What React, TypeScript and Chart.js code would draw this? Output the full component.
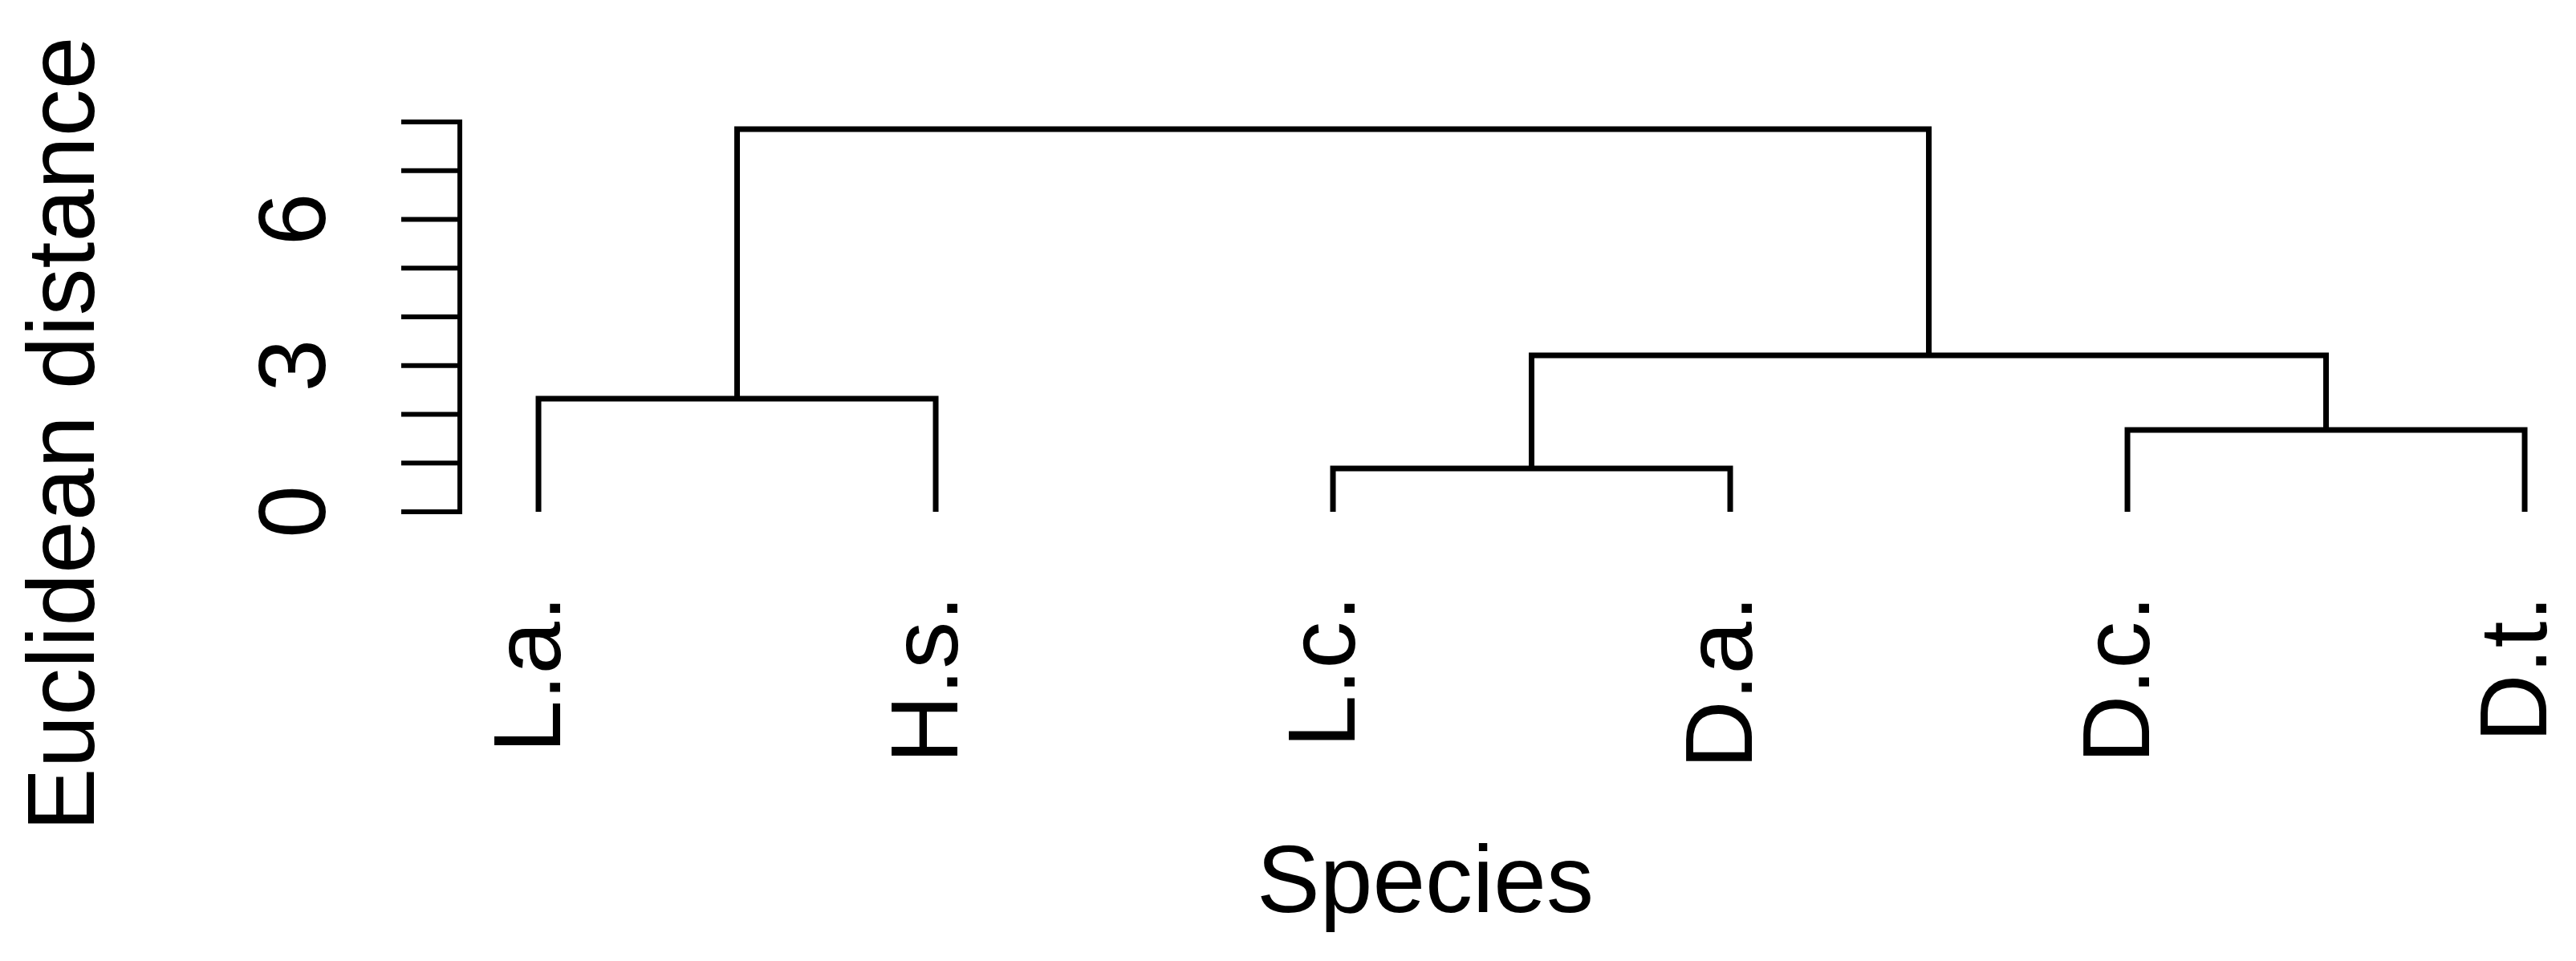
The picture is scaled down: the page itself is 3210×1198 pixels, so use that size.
import React, { useEffect, useRef } from 'react';
import { Chart, registerables } from 'chart.js';

Chart.register(...registerables);

// Leaf order of the dendrogram
const species = ['L.a.', 'H.s.', 'L.c.', 'D.a.', 'D.c.', 'D.t.'];
// hclust-style merge table: negative = leaf (1-based), positive = earlier merge (1-based)
const mergeA = [-3, -5, -1, 1, 3];
const mergeB = [-4, -6, -2, 2, 4];
const mergeHeights = [0.89, 1.68, 2.32, 3.21, 7.85];
// Y axis ticks
const yTicks = [0, 1, 2, 3, 4, 5, 6, 7, 8];
const yTickLabels = ['0', '', '', '3', '', '', '6', '', ''];
const xTitle = 'Species';
const yTitle = 'Euclidean distance';

const FONT = "118px 'Liberation Sans', Arial, sans-serif";

function buildDatasets() {
  const nodeX: number[] = [];
  const nodeH: number[] = [];
  const pos = (id: number) =>
    id < 0 ? { x: -id, h: 0 } : { x: nodeX[id - 1], h: nodeH[id - 1] };
  const sets: any[] = [];
  mergeHeights.forEach((h, i) => {
    const a = pos(mergeA[i]);
    const b = pos(mergeB[i]);
    nodeX.push((a.x + b.x) / 2);
    nodeH.push(h);
    sets.push({
      data: [
        { x: a.x, y: a.h },
        { x: a.x, y: h },
        { x: b.x, y: h },
        { x: b.x, y: b.h },
      ],
      showLine: true,
      borderColor: '#000',
      backgroundColor: '#000',
      borderWidth: 7,
      pointRadius: 0,
      pointHoverRadius: 0,
      fill: false,
      tension: 0,
      borderCapStyle: 'butt',
      borderJoinStyle: 'miter',
      clip: false,
    });
  });
  return sets;
}

const axisPlugin = {
  id: 'rAxes',
  afterDraw(chart: any) {
    const ctx = chart.ctx;
    const xs = chart.scales.x;
    const ys = chart.scales.y;
    const axisX = chart.chartArea.left;
    ctx.save();
    ctx.strokeStyle = '#000';
    ctx.fillStyle = '#000';
    ctx.lineWidth = 6;
    ctx.lineCap = 'butt';
    // axis line
    ctx.beginPath();
    ctx.moveTo(axisX, ys.getPixelForValue(yTicks[0]) + 3);
    ctx.lineTo(axisX, ys.getPixelForValue(yTicks[yTicks.length - 1]) - 3);
    ctx.stroke();
    // ticks
    yTicks.forEach((t) => {
      const py = ys.getPixelForValue(t);
      ctx.beginPath();
      ctx.moveTo(axisX + 3, py);
      ctx.lineTo(axisX - 73, py);
      ctx.stroke();
    });
    ctx.font = FONT;
    // tick labels (rotated)
    yTicks.forEach((t, i) => {
      const lbl = yTickLabels[i];
      if (!lbl) return;
      const py = ys.getPixelForValue(t);
      ctx.save();
      ctx.translate(axisX - 168, py);
      ctx.rotate(-Math.PI / 2);
      ctx.textAlign = 'center';
      ctx.textBaseline = 'alphabetic';
      ctx.fillText(lbl, 0, 0);
      ctx.restore();
    });
    // leaf labels
    species.forEach((s, i) => {
      const px = xs.getPixelForValue(i + 1);
      ctx.save();
      ctx.translate(px + 27, 742);
      ctx.rotate(-Math.PI / 2);
      ctx.textAlign = 'right';
      ctx.textBaseline = 'alphabetic';
      ctx.fillText(s, 0, 0);
      ctx.restore();
    });
    // x title
    ctx.textAlign = 'center';
    ctx.textBaseline = 'alphabetic';
    ctx.fillText(xTitle, 1776, 1137);
    // y title
    ctx.save();
    ctx.translate(117, 541);
    ctx.rotate(-Math.PI / 2);
    ctx.textAlign = 'center';
    ctx.fillText(yTitle, 0, 0);
    ctx.restore();
    ctx.restore();
  },
};

export default function App() {
  const ref = useRef<HTMLCanvasElement>(null);
  useEffect(() => {
    if (!ref.current) return;
    const chart = new Chart(ref.current, {
      type: 'scatter',
      data: { datasets: buildDatasets() },
      options: {
        responsive: false,
        animation: false,
        devicePixelRatio: 1,
        layout: { padding: { left: 573, right: 10, top: 152, bottom: 560 } },
        plugins: { legend: { display: false }, tooltip: { enabled: false } },
        events: [],
        scales: {
          x: { type: 'linear', display: false, min: 0.802, max: 6.109 },
          y: { type: 'linear', display: false, min: 0, max: 8 },
        },
      },
      plugins: [axisPlugin],
    } as any);
    return () => chart.destroy();
  }, []);
  return (
    <div style={{ position: 'absolute', left: 0, top: 0, width: 3210, height: 1198, background: '#fff' }}>
      <canvas ref={ref} width={3210} height={1198} style={{ display: 'block', width: 3210, height: 1198 }} />
    </div>
  );
}
